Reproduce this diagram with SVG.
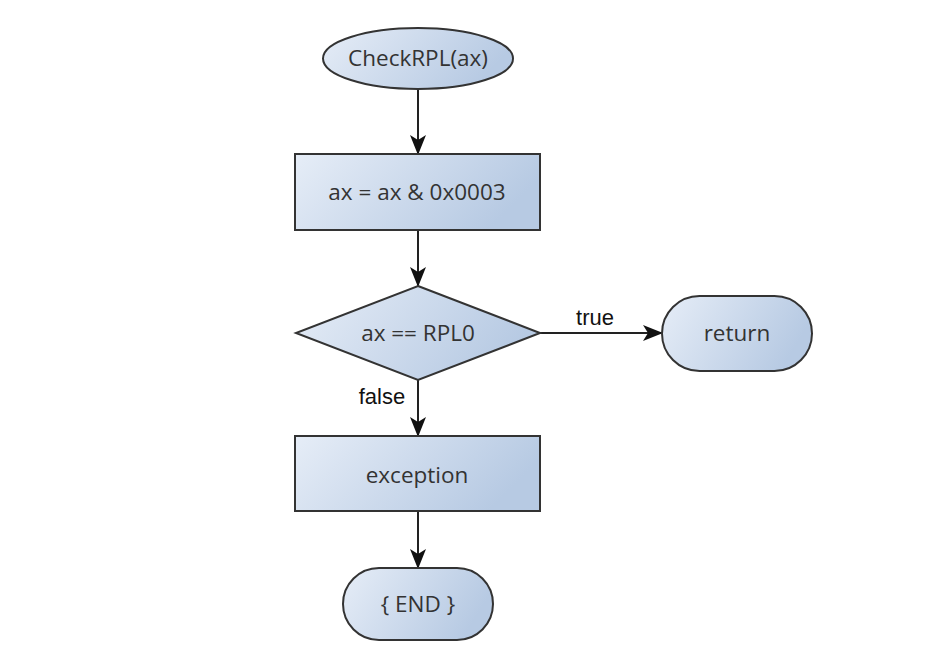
<svg xmlns="http://www.w3.org/2000/svg" width="935" height="663" viewBox="0 0 935 663">
<style>
.n{fill:url(#g);stroke:#333;stroke-width:2}
.t{font-family:"Open Sans","Noto Sans",sans-serif;font-size:22.5px;fill:#333;text-anchor:middle;dominant-baseline:central}
.l{font-family:"Liberation Sans",Arial,sans-serif;font-size:22px;fill:#111;text-anchor:middle}
.c{stroke:#222;stroke-width:2;fill:none;marker-end:url(#a)}
</style>
<defs>
<linearGradient id="g" x1="0" y1="0" x2="1" y2="0.3">
<stop offset="0" stop-color="#e6edf7"/>
<stop offset="1" stop-color="#b7cae3"/>
</linearGradient>
<marker id="a" viewBox="0 0 20 20" refX="19" refY="10" markerWidth="20" markerHeight="20" markerUnits="userSpaceOnUse" orient="auto">
<path d="M0,2 L20,10 L0,18 L5,10 Z" fill="#111"/>
</marker>
</defs>
<rect width="935" height="663" fill="#fff"/>
<g id="connectors">
<line class="c" x1="418" y1="89" x2="418" y2="154"/>
<line class="c" x1="418" y1="230" x2="418" y2="286"/>
<line class="c" x1="540" y1="333" x2="662" y2="333"/>
<line class="c" x1="418" y1="380" x2="418" y2="436"/>
<line class="c" x1="418" y1="511" x2="418" y2="568"/>
<text class="l" x="595" y="325">true</text>
<text class="l" x="382" y="404">false</text>
</g>
<g id="start">
<ellipse class="n" cx="418" cy="58.5" rx="95" ry="30.5"/>
<text class="t" x="418" y="57">CheckRPL(ax)</text>
</g>
<g id="mask">
<rect class="n" x="295" y="154" width="245" height="76"/>
<text class="t" x="417" y="191">ax = ax &amp; 0x0003</text>
</g>
<g id="decision">
<polygon class="n" points="418,286 540,333 418,380 296,333"/>
<text class="t" x="418" y="332">ax == RPL0</text>
</g>
<g id="return">
<rect class="n" x="662" y="296" width="150" height="75" rx="37.5"/>
<text class="t" x="737" y="332">return</text>
</g>
<g id="exception">
<rect class="n" x="295" y="436" width="245" height="75"/>
<text class="t" x="417" y="474">exception</text>
</g>
<g id="end">
<rect class="n" x="343" y="568" width="150" height="72" rx="36"/>
<text class="t" x="418" y="603">{ END }</text>
</g>
</svg>
